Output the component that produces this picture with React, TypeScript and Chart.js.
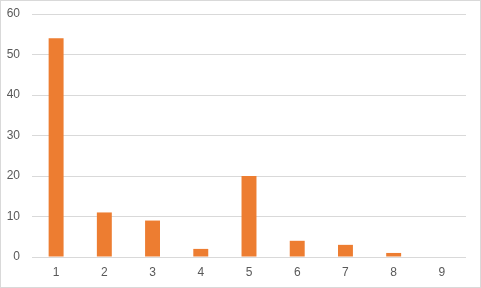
import React, { useEffect, useRef } from "react";
import { Chart, registerables } from "chart.js";

Chart.register(...registerables);

const categories = ["1", "2", "3", "4", "5", "6", "7", "8", "9"];
const counts = [54, 11, 9, 2, 20, 4, 3, 1, 0];

const W = 481;
const H = 288;

// thin light-gray frame around the whole chart
const framePlugin = {
  id: "frame",
  afterDraw(chart: Chart) {
    const ctx = chart.ctx;
    ctx.save();
    ctx.strokeStyle = "#d9d9d9";
    ctx.lineWidth = 1;
    ctx.strokeRect(0.5, 0.5, chart.width - 1, chart.height - 1);
    ctx.restore();
  },
};

export default function App() {
  const ref = useRef<HTMLCanvasElement | null>(null);

  useEffect(() => {
    document.body.style.margin = "0";
    if (!ref.current) return;
    const chart = new Chart(ref.current, {
      type: "bar",
      data: {
        labels: categories,
        datasets: [
          {
            data: counts,
            backgroundColor: "#ED7D31",
            barPercentage: 0.31,
            categoryPercentage: 1,
          },
        ],
      },
      options: {
        responsive: false,
        animation: false,
        layout: { padding: { top: 14, right: 15, left: 0, bottom: 0 } },
        plugins: { legend: { display: false }, tooltip: { enabled: false } },
        scales: {
          x: {
            grid: { display: false, drawTicks: false },
            border: { display: false },
            ticks: {
              color: "#595959",
              font: { family: "Liberation Sans", size: 12 },
              padding: 8,
            },
            afterFit(scale: any) {
              scale.height = 31;
              scale.paddingLeft = 0;
              scale.paddingRight = 0;
            },
          },
          y: {
            min: 0,
            max: 60,
            grid: { color: "#d9d9d9", drawTicks: false },
            border: { display: false },
            ticks: {
              stepSize: 10,
              color: "#595959",
              font: { family: "Liberation Sans", size: 12 },
              padding: 12,
            },
            afterFit(scale: any) {
              scale.width = 32;
              scale.paddingTop = 0;
              scale.paddingBottom = 0;
            },
          },
        },
      },
      plugins: [framePlugin],
    });
    return () => chart.destroy();
  }, []);

  return (
    <div style={{ position: "absolute", left: 0, top: 0, width: W, height: H }}>
      <canvas ref={ref} width={W} height={H} style={{ width: W, height: H }} />
    </div>
  );
}
